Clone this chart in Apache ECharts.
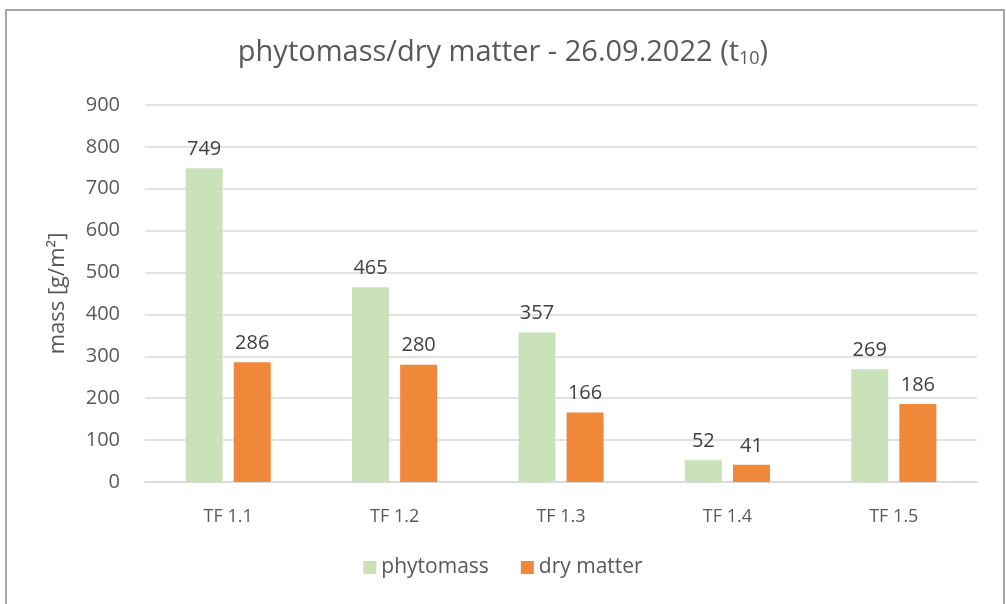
<!DOCTYPE html>
<html><head><meta charset="utf-8">
<script src="https://cdn.jsdelivr.net/npm/echarts@6/dist/echarts.min.js"></script>
<style>html,body{margin:0;padding:0;background:#fff}#c{width:1006px;height:604px}</style>
</head><body><div id="c"></div>
<script>
const categories = ['TF 1.1','TF 1.2','TF 1.3','TF 1.4','TF 1.5'];
const phytomass = [749, 465, 357, 52, 269];
const dryMatter = [286, 280, 166, 41, 186];
const yTicks = [0,100,200,300,400,500,600,700,800,900];

const FONT = '"Open Sans", "Noto Sans", sans-serif';
const chart = echarts.init(document.getElementById('c'));
chart.setOption({
  animation: false,
  backgroundColor: '#fff',
  graphic: [{
    type: 'rect', shape: {x: 6, y: 10, width: 998, height: 620},
    style: {fill: 'none', stroke: '#a6a6a6', lineWidth: 2}, z: 100
  }],
  title: {
    text: '{m|phytomass/dry matter - 26.09.2022 (t}{s|10}{m|)}',
    left: 'center', top: 33,
    textStyle: {
      rich: {
        m: {fontFamily: FONT, fontSize: 29, color: '#595959', fontWeight: 'normal'},
        s: {fontFamily: FONT, fontSize: 18, color: '#595959', fontWeight: 'normal', verticalAlign: 'bottom', padding: [12,0,0,0]}
      }
    }
  },
  legend: {
    bottom: 21, left: 'center',
    itemWidth: 13, itemHeight: 13, itemGap: 32,
    icon: 'rect',
    textStyle: {fontFamily: FONT, fontSize: 21, color: '#595959'},
    data: ['phytomass','dry matter']
  },
  grid: {left: 145, right: 29, top: 105, bottom: 122},
  xAxis: {
    type: 'category', data: categories,
    axisLine: {lineStyle: {color: '#d9d9d9', width: 1.5}},
    axisTick: {show: false},
    axisLabel: {fontFamily: FONT, fontSize: 18, color: '#595959', margin: 26},
  },
  yAxis: {
    type: 'value', min: yTicks[0], max: yTicks[yTicks.length-1], interval: 100,
    name: 'mass [g/m²]', nameLocation: 'middle', nameGap: 76, nameRotate: 90,
    nameTextStyle: {fontFamily: FONT, fontSize: 22, color: '#595959'},
    axisLine: {show: false}, axisTick: {show: false},
    axisLabel: {fontFamily: FONT, fontSize: 20, color: '#595959', margin: 25},
    splitLine: {lineStyle: {color: '#d9d9d9', width: 1.5}}
  },
  series: [
    {name: 'phytomass', type: 'bar', data: phytomass, barWidth: 37, barGap: '30%',
     itemStyle: {color: '#c9e2b9'},
     label: {show: true, position: 'top', distance: 9, fontFamily: FONT, fontSize: 20, color: '#404040'}},
    {name: 'dry matter', type: 'bar', data: dryMatter, barWidth: 37,
     itemStyle: {color: '#f0883a'},
     label: {show: true, position: 'top', distance: 9, fontFamily: FONT, fontSize: 20, color: '#404040'}}
  ]
});
</script></body></html>
